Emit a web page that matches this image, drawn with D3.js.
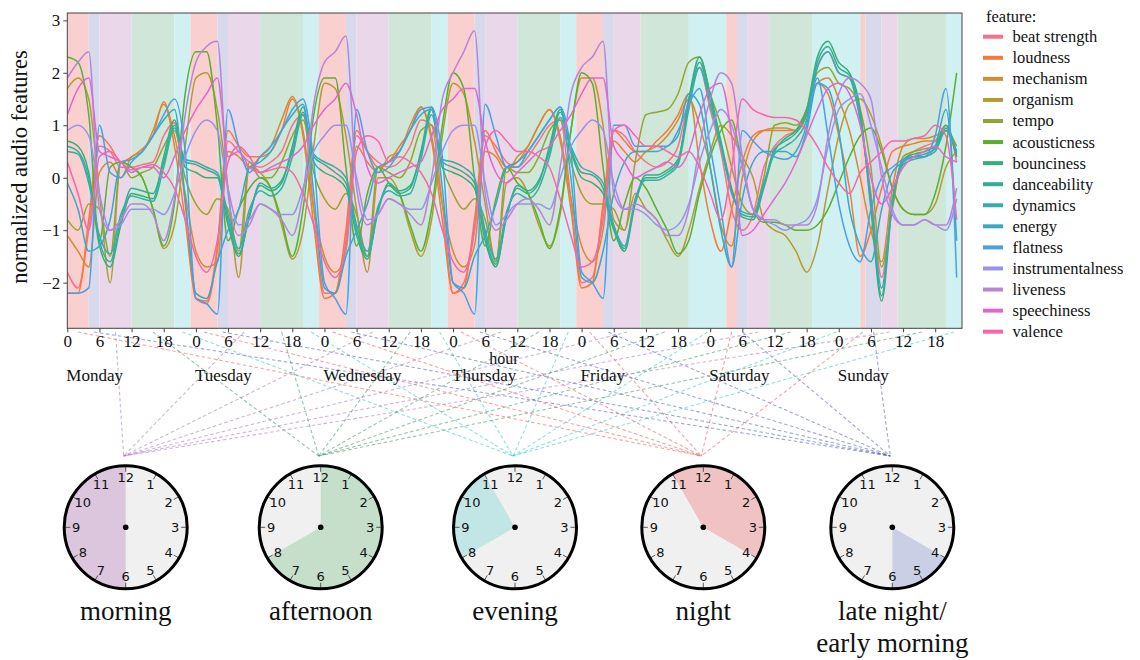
<!DOCTYPE html>
<html>
<head>
<meta charset="utf-8">
<script src="https://cdn.jsdelivr.net/npm/d3@7"></script>
<style>
body { margin: 0; background: #fff; }
text { font-family: "Liberation Serif", "Times New Roman", serif; fill: #111; }
</style>
</head>
<body>
<script>
// DATA: hour of the week (Monday 0h ... Sunday 22h), every 2 hours
const hours = [0,2,4,6,8,10,12,14,16,18,20,22,24,26,28,30,32,34,36,38,40,42,44,46,
  48,50,52,54,56,58,60,62,64,66,68,70,72,74,76,78,80,82,84,86,88,90,92,94,
  96,98,100,102,104,106,108,110,112,114,116,118,120,122,124,126,128,130,132,134,136,138,140,142,
  144,146,148,150,152,154,156,158,160,162,164,166];

const beatStrength = [
  -1.8,-2.1,-1.0,0.6,0.5,0.2,0.2,0.25,0.3,0.8,1.05,-0.5,
  -2.3,-2.4,-1.4,0.7,0.5,0.3,0.2,0.3,0.5,1.0,1.2,-0.6,
  -2.2,-2.2,-1.2,0.8,0.5,0.3,0.2,0.3,0.6,1.1,1.0,-0.5,
  -2.2,-2.0,-1.0,0.8,0.6,0.3,0.2,0.4,0.7,1.0,1.1,-0.4,
  -2.0,-1.9,-0.6,0.9,0.8,0.5,0.3,0.2,0.3,0.6,1.5,2.1,
  1.3,0.5,-0.6,-1.0,-0.7,0.2,0.6,0.8,0.9,1.3,2.1,2.4,
  2.0,1.9,1.1,-0.3,-1.9,-0.5,0.3,0.5,0.6,0.7,1.0,0.3];
const loudness = [
  -2.2,-2.2,-0.8,0.8,0.6,0.3,0.4,0.55,0.8,1.45,0.6,-0.8,
  -2.3,-2.35,-1.3,0.9,0.6,0.4,0.4,0.5,0.9,1.5,0.8,-0.9,
  -2.3,-2.2,-1.0,0.9,0.5,0.2,0.3,0.6,0.9,1.35,0.7,-0.8,
  -2.2,-2.1,-0.8,0.9,0.5,0.2,0.3,0.6,1.0,1.3,0.7,-0.6,
  -2.1,-2.0,-0.5,0.9,0.7,0.5,0.5,0.7,0.9,1.2,1.6,0.3,
  -0.8,-1.4,-0.6,0.3,0.8,0.9,0.9,0.9,0.9,1.2,1.8,1.6,
  0.8,-0.2,-1.5,-1.0,-0.2,0.5,0.6,0.65,0.7,0.7,0.9,0.4];
const mechanism = [
  -1.1,-1.4,-1.7,0.1,0.3,0.0,0.4,0.5,0.9,1.4,0.8,-0.3,
  -1.4,-1.7,-1.6,0.5,0.4,0.2,0.4,0.6,1.1,1.55,0.9,-0.6,
  -1.5,-1.8,-1.4,0.6,0.3,0.1,0.4,0.5,1.0,1.35,0.8,-0.5,
  -1.4,-1.7,-1.3,0.5,0.4,0.1,0.4,0.6,1.0,1.3,0.8,-0.4,
  -1.3,-1.6,-1.0,0.7,0.5,0.3,0.5,0.6,0.8,1.1,1.5,1.0,
  0.2,-0.9,-1.3,0.0,0.7,0.9,0.95,0.95,0.9,1.3,1.8,1.9,
  1.5,0.9,0.0,-1.0,-1.6,-0.2,0.6,0.75,0.75,0.8,0.9,0.5];
const organism = [
  1.7,1.9,1.5,-0.3,-2.0,0.3,0.2,0.0,-0.6,-1.35,-0.9,0.6,
  1.9,2.0,1.3,-0.2,-1.9,0.2,0.1,-0.2,-0.9,-1.55,-1.0,0.6,
  1.8,1.7,0.8,-0.6,-1.8,0.0,0.0,-0.3,-1.0,-1.5,-0.8,0.8,
  1.8,1.6,0.7,-0.5,-1.6,-0.1,0.0,-0.3,-0.9,-1.3,-0.7,0.9,
  1.9,1.9,1.0,-0.8,-1.0,-0.3,-0.6,-0.8,-1.2,-1.5,-1.0,-0.2,
  0.5,1.0,0.8,0.4,0.0,-0.8,-1.0,-1.1,-1.4,-1.8,-1.3,-0.2,
  0.8,1.4,1.5,1.2,0.6,-0.2,-0.6,-0.7,-0.7,-0.5,0.2,0.5];
const tempo = [
  -0.8,-1.0,-0.5,-0.6,-1.5,0.3,0.0,0.1,0.2,0.6,0.9,0.0,
  -0.5,-0.7,-0.4,-0.6,-1.4,0.3,0.0,0.0,0.3,0.8,1.1,0.1,
  -0.4,-0.6,-0.3,-0.7,-1.5,0.2,0.1,0.0,0.3,0.9,1.0,0.2,
  -0.3,-0.6,-0.4,-0.8,-1.6,0.2,0.1,0.1,0.4,0.9,1.1,0.3,
  -0.3,-0.5,-0.5,-0.6,-1.0,0.3,1.2,1.25,1.3,1.6,2.2,2.3,
  1.6,1.0,0.2,-0.5,-0.7,0.0,1.0,1.05,1.0,1.3,2.0,2.1,
  1.8,1.7,1.3,0.2,-1.7,-0.6,0.4,0.5,0.55,0.6,0.9,0.6];
const acousticness = [
  2.3,2.2,1.2,-1.2,0.2,0.3,0.2,0.0,-0.6,-1.3,-0.5,1.6,
  2.4,2.4,1.0,-1.2,-0.6,-0.2,0.0,-0.2,-0.8,-1.5,-0.6,1.2,
  1.9,1.9,0.2,-1.3,-0.3,0.2,-0.1,-0.3,-0.9,-1.4,-0.6,1.0,
  2.0,1.7,0.0,-1.3,-0.4,0.2,-0.1,-0.3,-0.8,-1.35,-0.6,0.9,
  2.0,1.8,0.2,-1.2,-0.5,0.0,-0.2,-0.6,-1.0,-1.45,-1.2,-0.3,
  0.4,0.9,1.1,0.2,-0.6,-0.85,-0.85,-0.9,-1.0,-1.0,-0.9,-0.6,
  -0.1,0.4,0.8,0.95,0.5,-0.2,-0.6,-0.7,-0.7,-0.3,0.6,2.0];
const bounciness = [
  0.7,0.6,0.1,-1.3,-1.7,-0.9,-0.3,-0.35,-0.4,0.4,1.1,0.2,
  0.1,0.0,0.0,-0.9,-1.5,-0.7,-0.15,-0.25,-0.1,0.6,1.35,0.3,
  0.1,0.0,-0.2,-1.1,-1.55,-0.6,-0.15,-0.3,-0.2,0.5,1.35,0.2,
  0.1,0.0,-0.2,-1.2,-1.7,-0.7,-0.2,-0.3,-0.1,0.6,1.3,0.5,
  0.0,-0.1,-0.3,-1.0,-1.4,-0.5,0.0,0.0,0.1,0.3,1.5,2.3,
  1.6,0.7,-0.2,-0.75,-0.8,-0.2,0.5,0.75,0.9,1.3,2.3,2.6,
  2.2,2.0,1.3,-0.6,-2.35,-0.5,0.35,0.45,0.5,0.6,1.0,0.4];
const danceability = [
  0.6,0.5,0.0,-1.2,-1.6,-0.8,-0.2,-0.25,-0.3,0.3,1.0,0.3,
  0.25,0.15,0.05,-0.8,-1.45,-0.75,-0.1,-0.2,-0.05,0.5,1.25,0.4,
  0.25,0.1,-0.1,-1.0,-1.5,-0.65,-0.1,-0.25,-0.15,0.45,1.3,0.3,
  0.2,0.1,-0.1,-1.1,-1.65,-0.75,-0.15,-0.25,-0.05,0.5,1.25,0.55,
  0.1,0.05,-0.2,-0.95,-1.35,-0.45,0.05,0.05,0.15,0.35,1.4,2.2,
  1.5,0.65,-0.25,-0.7,-0.75,-0.15,0.55,0.7,0.85,1.2,2.2,2.5,
  2.1,1.95,1.2,-0.5,-2.25,-0.45,0.3,0.4,0.45,0.55,0.95,0.45];
const dynamics = [
  0.5,0.45,-0.1,-1.1,-1.45,-0.7,-0.35,-0.4,-0.45,0.2,0.95,0.35,
  0.3,0.2,0.1,-0.7,-1.35,-0.6,-0.25,-0.35,-0.2,0.4,1.2,0.45,
  0.3,0.2,0.0,-0.9,-1.4,-0.55,-0.25,-0.35,-0.3,0.35,1.2,0.35,
  0.3,0.2,0.0,-1.0,-1.55,-0.65,-0.3,-0.4,-0.2,0.4,1.15,0.6,
  0.2,0.1,-0.1,-0.9,-1.3,-0.4,-0.05,-0.05,0.05,0.25,1.3,2.1,
  1.4,0.6,-0.3,-0.65,-0.7,-0.1,0.45,0.6,0.75,1.1,2.1,2.4,
  2.0,1.9,1.1,-0.4,-2.1,-0.4,0.25,0.35,0.4,0.5,0.9,0.5];
const energy = [
  -0.1,-0.6,-1.4,-1.3,-0.8,0.3,0.35,0.5,0.8,1.1,1.3,-0.4,
  -2.2,-2.3,-1.6,-1.0,-0.6,0.2,0.3,0.5,0.9,1.2,1.4,-0.3,
  -2.1,-2.2,-1.5,-1.0,-0.5,0.2,0.3,0.5,0.9,1.2,1.3,-0.2,
  -2.0,-2.1,-1.5,-1.1,-0.5,0.2,0.3,0.5,0.8,1.1,1.35,0.0,
  -1.9,-2.0,-1.4,-0.3,0.3,0.5,0.5,0.5,0.6,0.8,1.6,1.4,
  0.2,-1.0,-1.7,-0.4,0.3,0.5,0.5,0.5,0.4,0.9,1.8,1.7,
  0.9,-0.6,-1.3,-1.6,-0.6,0.1,0.3,0.4,0.4,0.6,1.3,-1.2];
const flatness = [
  -2.2,-2.2,-2.1,1.0,0.1,0.0,0.3,0.5,0.8,1.2,1.5,0.5,
  -2.3,-2.4,-2.6,1.3,0.6,0.1,0.4,0.6,0.9,1.3,1.5,0.3,
  -2.0,-2.3,-2.6,1.3,0.5,0.1,0.2,0.5,0.9,1.3,1.35,0.4,
  -2.0,-2.2,-2.6,1.4,0.8,0.2,0.2,0.5,0.8,1.1,1.35,0.5,
  -1.8,-2.0,-2.3,1.0,1.0,0.6,0.6,0.6,0.6,0.9,1.4,1.7,
  0.6,-0.6,-1.7,0.9,0.7,0.5,0.4,0.35,0.5,1.0,1.9,0.8,
  -0.5,-1.3,-1.6,-0.6,0.0,0.2,0.35,0.4,0.4,0.8,1.7,-1.9];
const instrumentalness = [
  0.9,1.0,0.8,-0.3,-1.0,-0.9,-0.6,-0.6,-0.6,-0.7,-0.3,0.4,
  0.9,1.1,0.9,-0.2,-0.9,-0.8,-0.5,-0.6,-0.7,-0.7,-0.2,0.5,
  0.8,1.0,1.0,0.0,-0.8,-0.7,-0.4,-0.5,-0.6,-0.6,-0.1,0.5,
  0.9,1.0,1.0,-0.1,-0.9,-0.7,-0.5,-0.5,-0.5,-0.6,0.0,0.6,
  0.9,1.1,0.9,-0.1,-0.6,-0.6,-0.7,-0.9,-1.0,-0.9,-0.5,0.3,
  0.9,1.3,1.0,0.2,-0.6,-0.8,-0.9,-1.0,-0.9,-0.8,-0.4,0.6,
  1.3,1.5,1.6,1.0,0.2,-0.6,-0.9,-0.9,-0.8,-0.9,-1.0,-0.4];
const liveness = [
  1.9,2.2,2.4,-0.6,-1.0,-0.8,-0.5,-0.5,-0.7,-1.2,-0.4,1.2,
  2.2,2.5,2.6,-0.3,-1.1,-0.9,-0.5,-0.6,-0.8,-1.1,-0.3,1.4,
  2.2,2.4,2.7,-0.2,-0.9,-0.7,-0.4,-0.5,-0.7,-0.9,0.0,1.5,
  2.0,2.4,2.8,-0.3,-1.0,-0.8,-0.5,-0.4,-0.6,-0.9,0.2,1.6,
  2.1,2.3,2.6,-0.3,-0.6,-0.5,-0.6,-0.8,-1.1,-1.1,-0.6,0.6,
  1.5,2.0,1.8,0.4,-0.6,-0.8,-0.8,-0.9,-0.9,-0.9,-0.5,0.8,
  1.6,1.9,1.8,1.5,0.0,-0.7,-0.9,-0.9,-0.8,-0.9,-0.9,-0.2];
const speechiness = [
  1.2,1.7,1.9,0.5,0.4,0.3,0.1,0.2,0.2,0.0,0.4,0.9,
  1.3,1.6,1.9,0.4,0.5,0.2,0.1,0.2,0.3,0.4,0.6,1.0,
  1.3,1.5,1.8,1.2,0.2,-0.1,0.0,0.1,0.2,0.3,0.8,1.3,
  1.5,1.7,1.7,0.7,0.1,-0.1,0.1,0.3,0.5,0.6,0.9,1.2,
  1.6,1.9,1.9,0.6,0.3,0.0,0.1,0.2,0.3,0.2,0.5,1.2,
  1.7,1.8,0.8,-1.1,-1.0,-0.7,-0.4,-0.1,0.3,0.8,1.3,1.7,
  1.8,1.6,1.0,0.0,-0.5,-0.2,0.2,0.4,0.5,0.6,0.4,0.3];
const valence = [
  0.3,-0.3,-1.0,0.4,0.5,0.3,0.15,0.2,0.25,0.1,-0.2,-0.8,
  -1.5,-1.8,-1.2,0.3,0.6,0.4,0.1,0.15,0.2,0.1,-0.3,-0.9,
  -1.6,-1.9,-1.3,0.5,0.8,0.7,0.3,0.4,0.3,0.1,-0.3,-1.0,
  -1.6,-1.8,-1.0,0.6,0.9,0.7,0.5,0.5,0.4,0.2,-0.4,-1.1,
  -1.7,-1.6,-0.8,0.9,1.0,0.8,0.6,0.6,0.5,0.4,0.5,0.2,
  -0.3,-0.8,0.2,1.5,1.3,1.2,1.15,1.15,1.1,0.9,0.6,0.2,
  -0.1,-0.3,0.1,0.3,0.5,0.7,0.7,0.75,0.8,1.0,0.8,-0.8];

const featureNames = ["beat strength","loudness","mechanism","organism","tempo","acousticness",
  "bounciness","danceability","dynamics","energy","flatness","instrumentalness","liveness",
  "speechiness","valence"];
const featureValues = [beatStrength, loudness, mechanism, organism, tempo, acousticness,
  bounciness, danceability, dynamics, energy, flatness, instrumentalness, liveness,
  speechiness, valence];
const featureColors = ["#f77189","#f37b3a","#d38c32","#b59a31","#91a632","#5bae31",
  "#33b07a","#34ae93","#36acac","#38a9c5","#4a9fe3","#9a92ea","#b785d6","#e067d0","#f566ad"];

// TIME-OF-DAY BANDS (hour of week)
const bandStart = [0,4,6,12,20, 23,28,30,36,44, 47,52,54,60,68, 71,76,78,84,92,
  95,100,102,107,116, 123,125,127,131,139, 148,149,152,155,164];
const bandEnd = [4,6,12,20,23, 28,30,36,44,47, 52,54,60,68,71, 76,78,84,92,95,
  100,102,107,116,123, 125,127,131,139,148, 149,152,155,164,167];
const bandPeriod = [];
bandStart.forEach((d, i) => bandPeriod.push(["night","late","morning","afternoon","evening"][i % 5]));

const periods = ["morning","afternoon","evening","night","late"];
const periodLabels = [["morning"],["afternoon"],["evening"],["night"],["late night/","early morning"]];
const periodFrom = [6, 12, 20, 23, 4];   // clock hours
const periodTo = [12, 20, 23, 28, 6];
const bandColors = {night:"#f9cfcf", late:"#d8daec", morning:"#ebd7ea", afternoon:"#cfe6d8", evening:"#d0f0f1"};
const clockColors = {night:"#f0c2c3", late:"#cbcfe5", morning:"#dcc6dd", afternoon:"#c5dfcb", evening:"#c2e6e6"};
const linkColors = {night:"#f04a4a", late:"#3f4fb5", morning:"#a46cb4", afternoon:"#2e8b57", evening:"#1fc2c2"};

const yTicks = [-2,-1,0,1,2,3];
const xTicks = [0,6,12,18,24,30,36,42,48,54,60,66,72,78,84,90,96,102,108,114,120,126,132,138,144,150,156,162];
const hourLabels = ["0","6","12","18"];
const dayNames = ["Monday","Tuesday","Wednesday","Thursday","Friday","Saturday","Sunday"];

// CHART DIMENSIONS
const svg = d3.select("body").append("svg")
  .attr("width", 1140).attr("height", 660);

const plot = {left: 67.3, right: 962, top: 13, bottom: 328.3};
const x = d3.scaleLinear().domain([0, 167]).range([plot.left, plot.right]);
const y = d3.scaleLinear().domain([-2.87, 3.14]).range([plot.bottom, plot.top]);

// BANDS
svg.append("g").selectAll("rect")
  .data(bandStart)
  .enter().append("rect")
  .attr("x", (d, i) => x(d))
  .attr("y", plot.top)
  .attr("width", (d, i) => x(bandEnd[i]) - x(d))
  .attr("height", plot.bottom - plot.top)
  .attr("fill", (d, i) => bandColors[bandPeriod[i]]);

// LINES
svg.append("clipPath").attr("id", "clip").append("rect")
  .attr("x", plot.left).attr("y", plot.top)
  .attr("width", plot.right - plot.left).attr("height", plot.bottom - plot.top);

const line = d3.line()
  .x((d, i) => x(hours[i]))
  .y(d => y(d))
  .curve(d3.curveMonotoneX);
svg.append("g").attr("clip-path", "url(#clip)")
  .selectAll("path")
  .data(featureValues)
  .enter().append("path")
  .attr("d", d => line(d))
  .attr("fill", "none")
  .attr("stroke", (d, i) => featureColors[i])
  .attr("stroke-width", 1.5)
  .attr("stroke-linejoin", "round");

// FRAME
svg.append("rect")
  .attr("x", plot.left).attr("y", plot.top)
  .attr("width", plot.right - plot.left).attr("height", plot.bottom - plot.top)
  .attr("fill", "none").attr("stroke", "#444").attr("stroke-width", 1);

// CLOCK POSITIONS
const clockX = [125.7, 320.7, 515, 703.3, 892.3];
const clockY = 527.3;
const clockR = 61.5;

// DASHED CONNECTORS FROM BANDS TO CLOCKS
svg.append("g").selectAll("line")
  .data(bandStart)
  .enter().append("line")
  .attr("x1", (d, i) => x((d + bandEnd[i]) / 2))
  .attr("y1", 332)
  .attr("x2", (d, i) => clockX[periods.indexOf(bandPeriod[i])] - 2)
  .attr("y2", 456)
  .attr("stroke", (d, i) => linkColors[bandPeriod[i]])
  .attr("stroke-opacity", 0.5)
  .attr("stroke-width", 1.1)
  .attr("stroke-dasharray", "3.5,2.5");

// AXES
const yAxis = d3.axisLeft(y).tickValues(yTicks).tickSize(4).tickPadding(3)
  .tickFormat(d => d < 0 ? "\u2212" + Math.abs(d) : d);
const gy = svg.append("g").attr("transform", `translate(${plot.left},0)`).call(yAxis);
gy.select(".domain").remove();
gy.selectAll("line").attr("stroke", "#444");
gy.selectAll("text").style("font-family", "Liberation Serif").style("font-size", "17px").attr("fill", "#111");

const xAxis = d3.axisBottom(x).tickValues(xTicks).tickSize(4).tickPadding(3)
  .tickFormat((d, i) => hourLabels[i % 4]);
const gx = svg.append("g").attr("transform", `translate(0,${plot.bottom})`).call(xAxis);
gx.select(".domain").remove();
gx.selectAll("line").attr("stroke", "#444");
gx.selectAll("text").style("font-family", "Liberation Serif").style("font-size", "17px").attr("fill", "#111");

// AXIS LABELS
svg.append("text")
  .attr("x", 504).attr("y", 364)
  .attr("text-anchor", "middle")
  .style("font-size", "16px")
  .text("hour");

svg.append("g").selectAll("text")
  .data(dayNames)
  .enter().append("text")
  .attr("x", (d, i) => x(i * 24) - 1)
  .attr("y", 381)
  .style("font-size", "17px")
  .text(d => d);

svg.append("text")
  .attr("transform", "rotate(-90)")
  .attr("x", -167).attr("y", 27)
  .attr("text-anchor", "middle")
  .style("font-size", "22.5px")
  .text("normalized audio features");

// LEGEND
const legend = svg.append("g");
legend.append("text").attr("x", 986).attr("y", 22).style("font-size", "16.5px").text("feature:");
featureNames.forEach((name, i) => {
  const ly = 36.7 + i * 21.07;
  legend.append("line")
    .attr("x1", 983).attr("x2", 1003).attr("y1", ly).attr("y2", ly)
    .attr("stroke", featureColors[i]).attr("stroke-width", 4);
  legend.append("text")
    .attr("x", 1012.5).attr("y", ly + 5.5)
    .style("font-size", "16.5px")
    .text(name);
});

// CLOCKS
const arc = d3.arc().innerRadius(0).outerRadius(clockR);
const clockNums = [1,2,3,4,5,6,7,8,9,10,11,12];
periods.forEach((p, k) => {
  const g = svg.append("g").attr("transform", `translate(${clockX[k]},${clockY})`);
  g.append("circle").attr("r", clockR).attr("fill", "#f0f0f0");
  g.append("path")
    .attr("d", arc({startAngle: periodFrom[k] / 12 * 2 * Math.PI, endAngle: periodTo[k] / 12 * 2 * Math.PI}))
    .attr("fill", clockColors[p]);
  g.selectAll("line.tick")
    .data(clockNums)
    .enter().append("line")
    .attr("x1", d => Math.sin(d / 12 * 2 * Math.PI) * (clockR - 6))
    .attr("y1", d => -Math.cos(d / 12 * 2 * Math.PI) * (clockR - 6))
    .attr("x2", d => Math.sin(d / 12 * 2 * Math.PI) * clockR)
    .attr("y2", d => -Math.cos(d / 12 * 2 * Math.PI) * clockR)
    .attr("stroke", "#333").attr("stroke-width", 0.8);
  g.selectAll("text.num")
    .data(clockNums)
    .enter().append("text")
    .attr("x", d => Math.sin(d / 12 * 2 * Math.PI) * 49.5)
    .attr("y", d => -Math.cos(d / 12 * 2 * Math.PI) * 49.5)
    .attr("text-anchor", "middle")
    .attr("dy", "0.36em")
    .style("font-family", "DejaVu Sans")
    .style("font-size", "13px")
    .text(d => d);
  g.append("circle").attr("r", clockR).attr("fill", "none").attr("stroke", "#000").attr("stroke-width", 3);
  g.append("circle").attr("r", 2.8).attr("fill", "#000");
  periodLabels[k].forEach((t, j) => {
    svg.append("text")
      .attr("x", clockX[k]).attr("y", 620 + j * 32)
      .attr("text-anchor", "middle")
      .style("font-size", "27px")
      .text(t);
  });
});
</script>
</body>
</html>
